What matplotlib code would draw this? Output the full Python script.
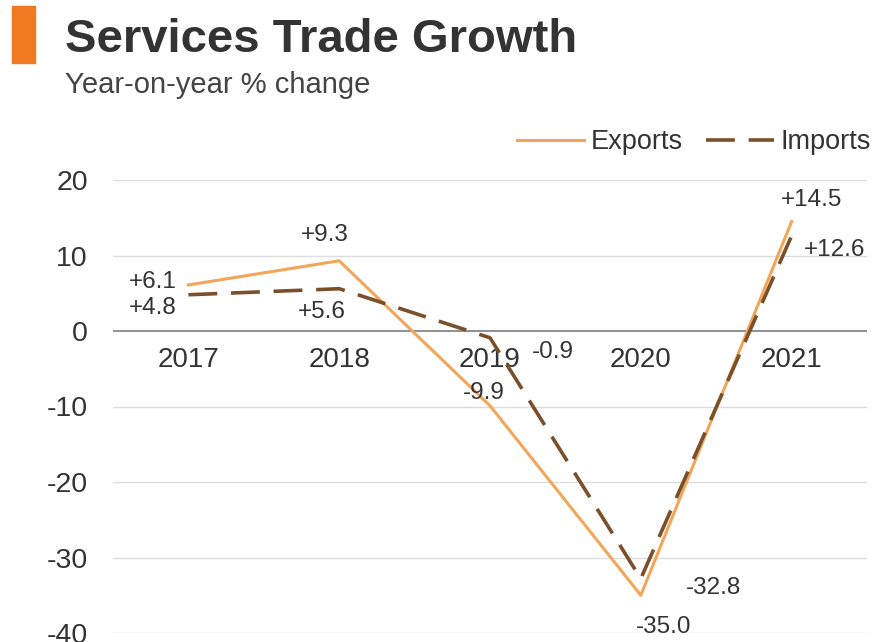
import matplotlib.pyplot as plt
from matplotlib.patches import Rectangle

plt.rcParams['font.family'] = ['Liberation Sans', 'DejaVu Sans']

years = ['2017', '2018', '2019', '2020', '2021']
exports = [6.1, 9.3, -9.9, -35.0, 14.5]
imports = [4.8, 5.6, -0.9, -32.8, 12.6]
exports_labels = ['+6.1', '+9.3', '-9.9', '-35.0', '+14.5']
imports_labels = ['+4.8', '+5.6', '-0.9', '-32.8', '+12.6']
yticks = [20, 10, 0, -10, -20, -30, -40]

# label offsets in pixels (layout only)
exp_off = [(-36, 3), (-14, 26), (-6, 13), (23, -32), (20, 22)]
imp_off = [(-36, -13), (-17, -23), (63, -14), (73, -9), (43, -14)]

EXP_COLOR = '#F2A65A'
IMP_COLOR = '#7A4F2A'
TEXT = '#333333'

fig = plt.figure(figsize=(8.74, 6.42), dpi=100)
ax = fig.add_axes([113 / 874, 9 / 642, (867 - 113) / 874, (633 - 180) / 642])

x = list(range(len(years)))
ax.set_xlim(-0.5, len(years) - 0.5)
ax.set_ylim(-40, 20)

for t in yticks:
    ax.axhline(t, color='#8f8f8f' if t == 0 else '#dddddd',
               lw=1.4 if t == 0 else 1.0, zorder=1)

ax.plot(x, exports, color=EXP_COLOR, lw=2.2, label='Exports', zorder=3)
ax.plot(x, imports, color=IMP_COLOR, lw=2.6, linestyle=(0, (8.0, 3.8)),
        label='Imports', zorder=4)

for i, (v, lab, off) in enumerate(zip(exports, exports_labels, exp_off)):
    ax.annotate(lab, (i, v), xytext=off, textcoords='offset pixels',
                ha='center', va='center', fontsize=17.5, color=TEXT, zorder=5)
for i, (v, lab, off) in enumerate(zip(imports, imports_labels, imp_off)):
    ax.annotate(lab, (i, v), xytext=off, textcoords='offset pixels',
                ha='center', va='center', fontsize=17.5, color=TEXT, zorder=5)

# year labels sit just under the zero line
for i, yr in enumerate(years):
    ax.text(i, -3.9, yr, ha='center', va='center', fontsize=20, color=TEXT, zorder=2)

ax.set_xticks([])
ax.set_yticks(yticks)
ax.set_yticklabels([str(t) for t in yticks], fontsize=20.5, color=TEXT)
ax.tick_params(axis='y', length=0, pad=18)
for s in ax.spines.values():
    s.set_visible(False)
ax.patch.set_alpha(0)

leg = fig.legend(*ax.get_legend_handles_labels(), loc='center right',
                 bbox_to_anchor=(871 / 874, 1 - 142 / 642), ncol=2, frameon=False,
                 fontsize=19.5, handlelength=2.5, handletextpad=0.25,
                 columnspacing=0.85, borderaxespad=0, borderpad=0)
for t in leg.get_texts():
    t.set_color(TEXT)

fig.patches.append(Rectangle((12 / 874, 1 - 63 / 642), 23 / 874, 57 / 642,
                             transform=fig.transFigure, color='#F07A22'))
fig.text(65 / 874, 1 - 40 / 642, 'Services Trade Growth', fontsize=34,
         color=TEXT, va='center', ha='left', fontweight='bold')
fig.text(65 / 874, 1 - 85 / 642, 'Year-on-year % change', fontsize=21,
         color='#444444', va='center', ha='left')

fig.savefig('out.png', dpi=100)
